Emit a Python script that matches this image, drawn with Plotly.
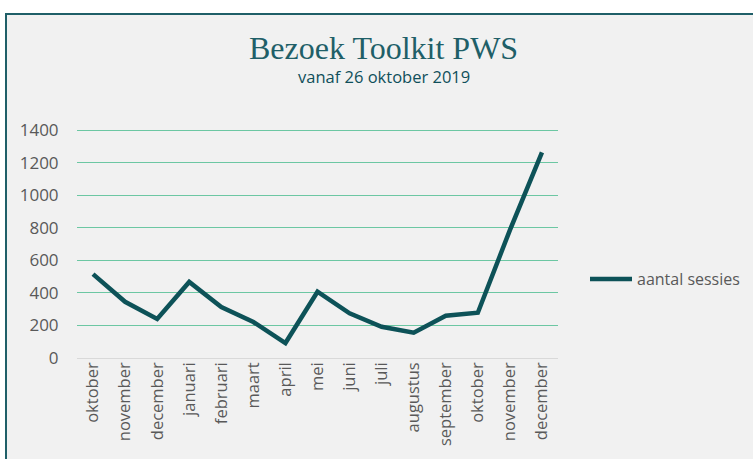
import plotly.graph_objects as go

months = ["oktober", "november", "december", "januari", "februari", "maart", "april",
          "mei", "juni", "juli", "augustus", "september", "oktober", "november", "december"]
sessies = [515, 345, 240, 467, 313, 221, 92, 407, 274, 192, 155, 260, 278, 785, 1262]
y_ticks = [0, 200, 400, 600, 800, 1000, 1200, 1400]

idx = list(range(len(months)))

fig = go.Figure()
fig.add_trace(go.Scatter(
    x=idx, y=sessies, mode="lines", name="aantal sessies",
    line=dict(color="#0d5258", width=4.5),
))

L, R, T, B = 77, 195, 127, 101
PW, PH = 753 - L - R, 459 - T - B
YTOP = 1400 * PH / 228.0

def px_x(x):
    return (x - L) / PW

def px_y(y):
    return (459 - B - y) / PH

fig.add_shape(type="rect", xref="paper", yref="paper",
              x0=px_x(6), x1=px_x(800), y0=px_y(14), y1=px_y(520),
              fillcolor="#f1f1f1", line=dict(color="#1f5f68", width=2), layer="below")

fig.add_annotation(text="Bezoek Toolkit PWS", xref="paper", yref="paper",
                   x=px_x(383), y=px_y(48), xanchor="center", yanchor="middle",
                   showarrow=False,
                   font=dict(family="Liberation Serif", size=32, color="#1f5f68"))
fig.add_annotation(text="vanaf 26 oktober 2019", xref="paper", yref="paper",
                   x=px_x(384), y=px_y(76), xanchor="center", yanchor="middle",
                   showarrow=False,
                   font=dict(family="Open Sans", size=16.5, color="#0f4f5a"))

fig.update_layout(
    width=753, height=459,
    margin=dict(l=L, r=R, t=T, b=B, autoexpand=False),
    paper_bgcolor="#ffffff",
    plot_bgcolor="rgba(0,0,0,0)",
    showlegend=True,
    legend=dict(x=px_x(585), y=px_y(279), xanchor="left", yanchor="middle",
                bgcolor="rgba(0,0,0,0)", itemwidth=42,
                font=dict(family="Open Sans", size=16, color="#595959")),
    xaxis=dict(range=[-0.5, 14.5], tickvals=idx, ticktext=months, tickangle=-90,
               showgrid=False, zeroline=False, showline=False, automargin=False,
               tickfont=dict(family="Open Sans", size=16.5, color="#595959")),
    yaxis=dict(range=[0, YTOP], tickvals=y_ticks, showgrid=True,
               gridcolor="#6cc7a3", gridwidth=1, automargin=False,
               zeroline=True, zerolinecolor="#d9d9d9", zerolinewidth=1,
               ticks="outside", ticklen=14, tickcolor="rgba(0,0,0,0)",
               tickfont=dict(family="Open Sans", size=17, color="#595959")),
)

fig.write_html("out.html")
